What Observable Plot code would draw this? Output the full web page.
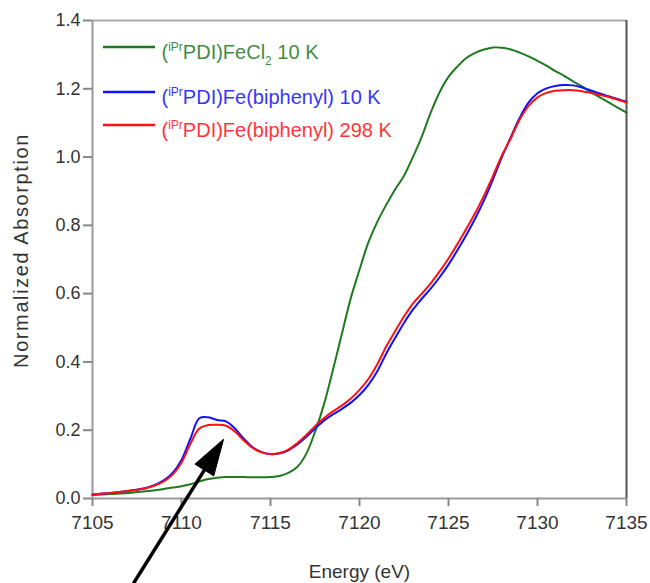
<!DOCTYPE html>
<html><head><meta charset="utf-8">
<script src="https://cdn.jsdelivr.net/npm/d3@7"></script>
<script src="https://cdn.jsdelivr.net/npm/@observablehq/plot@0.6"></script>
<style>
body{margin:0;background:#fff;}
#chart svg{font-family:"Liberation Sans",Arial,sans-serif;}
</style></head><body><div id="chart"></div>
<script>
// ---- data ----
const energy = [7105,7106,7107,7108,7108.5,7109,7109.5,7110,7110.5,7111,7111.5,7112,7112.5,7113,7113.5,7114,7114.5,7115,7115.5,7116,7116.5,7117,7117.5,7118,7118.5,7119,7119.5,7120,7120.5,7121,7121.5,7122,7122.5,7123,7123.5,7124,7124.5,7125,7125.5,7126,7126.5,7127,7127.5,7128,7128.5,7129,7129.5,7130,7130.5,7131,7131.5,7132,7132.5,7133,7133.5,7134,7134.5,7135];
const fecl2_10K = [0.010,0.013,0.016,0.021,0.024,0.028,0.032,0.036,0.042,0.050,0.057,0.061,0.063,0.063,0.063,0.062,0.062,0.063,0.066,0.075,0.092,0.130,0.195,0.275,0.375,0.480,0.585,0.670,0.750,0.810,0.860,0.905,0.945,1.000,1.060,1.130,1.190,1.235,1.265,1.290,1.305,1.315,1.321,1.320,1.315,1.306,1.295,1.282,1.268,1.252,1.238,1.222,1.207,1.190,1.175,1.160,1.145,1.130];
const biphenyl_10K = [0.012,0.016,0.022,0.031,0.040,0.053,0.075,0.113,0.175,0.235,0.238,0.230,0.226,0.205,0.175,0.150,0.136,0.130,0.132,0.141,0.158,0.180,0.205,0.228,0.246,0.262,0.280,0.303,0.333,0.373,0.424,0.470,0.514,0.553,0.585,0.615,0.648,0.685,0.727,0.772,0.820,0.874,0.935,1.000,1.058,1.115,1.160,1.187,1.201,1.208,1.211,1.210,1.204,1.195,1.186,1.178,1.170,1.162];
const biphenyl_298K = [0.012,0.016,0.022,0.030,0.038,0.050,0.070,0.105,0.160,0.205,0.215,0.216,0.213,0.196,0.170,0.148,0.135,0.130,0.133,0.143,0.162,0.185,0.212,0.235,0.255,0.272,0.292,0.318,0.350,0.393,0.445,0.490,0.533,0.571,0.600,0.630,0.665,0.703,0.745,0.790,0.836,0.888,0.945,1.005,1.055,1.110,1.150,1.175,1.188,1.194,1.196,1.196,1.193,1.188,1.182,1.176,1.168,1.160];
const seriesKeys = ["FeCl2 10 K", "biphenyl 10 K", "biphenyl 298 K"];
const seriesLabels = ["(^{iPr}PDI)FeCl_{2} 10 K", "(^{iPr}PDI)Fe(biphenyl) 10 K", "(^{iPr}PDI)Fe(biphenyl) 298 K"];
const seriesColors = ["#1e7a1e", "#1010ff", "#ff1010"];
const xTicks = [7105, 7110, 7115, 7120, 7125, 7130, 7135];
const yTicks = [0, 0.2, 0.4, 0.6, 0.8, 1.0, 1.2, 1.4];
const xLabel = "Energy (eV)";
const yLabel = "Normalized Absorption";
// annotation arrow, in data units (tail -> tip)
const arrowTail = [7107.3, -0.249];
const arrowTip = [7112.36, 0.173];

// ---- build table ----
const values = [fecl2_10K, biphenyl_10K, biphenyl_298K];
const rows = [];
values.forEach((vals, s) => energy.forEach((e, i) => rows.push({series: seriesKeys[s], E: e, A: vals[i]})));

const W = 650, H = 583, mL = 92, mR = 24, mT = 20, mB = 85;
const pxPerE = (W - mL - mR) / 30, pxPerA = (H - mT - mB) / 1.4;
const xFromPx = px => 7105 + (px - mL) / pxPerE;
const yFromPx = py => (H - mB - py) / pxPerA;

// arrow geometry
const adx = (arrowTip[0] - arrowTail[0]) * pxPerE, ady = (arrowTip[1] - arrowTail[1]) * pxPerA;
const aLen = Math.hypot(adx, ady);
const headLen = 36;
const rot = Math.atan2(adx, ady) * 180 / Math.PI;
const f = (aLen - headLen * 0.8) / aLen;
const shaftEnd = [arrowTail[0] + (arrowTip[0] - arrowTail[0]) * f, arrowTail[1] + (arrowTip[1] - arrowTail[1]) * f];
const headShape = {draw(ctx, l) { const w = 11; ctx.moveTo(0, -l); ctx.lineTo(-w, 0); ctx.lineTo(w, 0); ctx.closePath(); }};

// legend geometry
const legLineX = [xFromPx(103), xFromPx(155)];
const legTextX = xFromPx(161);
const legY = [46.5, 91.5, 124.5].map(yFromPx);
const plain = s => s.replace(/[\^_]\{([^}]*)\}/g, "$1");

const legendMarks = seriesLabels.flatMap((lab, i) => [
  Plot.ruleY([legY[i]], {x1: legLineX[0], x2: legLineX[1], stroke: seriesColors[i], strokeWidth: 2.5}),
  Plot.text([plain(lab)], {x: legTextX, y: legY[i], dy: 6, text: d => d, textAnchor: "start", fill: seriesColors[i], fontSize: 20, opacity: 0.85})
]);

const chart = Plot.plot({
  width: W, height: H,
  marginLeft: mL, marginRight: mR, marginTop: mT, marginBottom: mB,
  style: {fontFamily: "'Liberation Sans', Arial, sans-serif", fontSize: "18px", color: "#333", background: "#fff"},
  x: {domain: [7105, 7135], label: null},
  y: {domain: [0, 1.4], label: null},
  color: {domain: seriesKeys, range: seriesColors},
  marks: [
    Plot.ruleY([1.4], {stroke: "#aaa", strokeWidth: 2}),
    Plot.ruleX([7135], {stroke: "#555", strokeWidth: 2}),
    Plot.ruleY([0], {stroke: "#999", strokeWidth: 2}),
    Plot.ruleX([7105], {stroke: "#999", strokeWidth: 2}),
    Plot.axisX({ticks: xTicks, tickSize: 8, tickPadding: 9, stroke: "#888", strokeWidth: 2, fontSize: 19, tickFormat: d => String(d), label: null}),
    Plot.axisY({ticks: yTicks, tickSize: 9, tickPadding: 3, stroke: "#888", strokeWidth: 2, fontSize: 18, tickFormat: d3.format(".1f"), label: null}),
    Plot.line(rows, {x: "E", y: "A", z: "series", stroke: "series", strokeWidth: 2, curve: "catmull-rom"}),
    ...legendMarks,
    Plot.text([xLabel], {x: xFromPx(359), y: yFromPx(571), text: d => d, fontSize: 19, fill: "#333"}),
    Plot.text([yLabel], {x: xFromPx(21), y: yFromPx(250), rotate: -90, text: d => d, fontSize: 20, fill: "#333"}),
    Plot.link([0], {x1: arrowTail[0], y1: arrowTail[1], x2: shaftEnd[0], y2: shaftEnd[1], stroke: "black", strokeWidth: 3.5}),
    Plot.vector([0], {x: arrowTip[0], y: arrowTip[1], length: headLen, rotate: rot, anchor: "end", shape: headShape, fill: "black", stroke: "black", strokeWidth: 1})
  ]
});
document.getElementById("chart").append(chart);

d3.select(chart).selectAll("text").each(function() {
  const t = this.textContent;
  if (t === yLabel) { this.style.letterSpacing = "1.6px"; return; }
  // rich text (superscript / subscript) for legend labels
  const idx = seriesLabels.map(plain).indexOf(t);
  if (idx < 0) return;
  const parts = seriesLabels[idx].split(/(\^\{[^}]*\}|_\{[^}]*\})/).filter(p => p.length);
  const el = d3.select(this);
  el.text(null);
  let shift = 0;
  parts.forEach(p => {
    let target = 0, size = null, txt = p;
    if (p.startsWith("^{")) { target = -8; size = 12; txt = p.slice(2, -1); }
    else if (p.startsWith("_{")) { target = 6; size = 12; txt = p.slice(2, -1); }
    const ts = el.append("tspan").attr("dy", target - shift).text(txt);
    if (size) ts.attr("font-size", size);
    shift = target;
  });
});
</script></body></html>
